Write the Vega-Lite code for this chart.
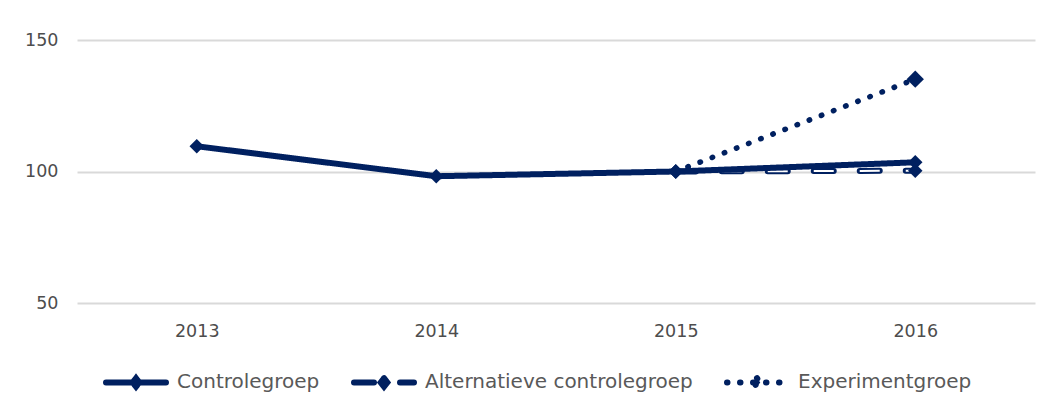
{
  "$schema": "https://vega.github.io/schema/vega-lite/v6.json",
  "width": 958,
  "height": 263,
  "autosize": {"type": "none"},
  "padding": {"left": 77, "top": 40, "right": 16, "bottom": 104},
  "background": "white",
  "config": {
    "view": {"stroke": null},
    "font": "DejaVu Sans",
    "axis": {"labelFont": "DejaVu Sans", "labelFontSize": 17, "labelColor": "#595959"}
  },
  "data": {
    "values": [
      {"year": "2013", "series": "Controlegroep", "value": 109.6},
      {"year": "2014", "series": "Controlegroep", "value": 98.2},
      {"year": "2015", "series": "Controlegroep", "value": 100.0},
      {"year": "2016", "series": "Controlegroep", "value": 103.5},
      {"year": "2015", "series": "Alternatieve controlegroep", "value": 100.0},
      {"year": "2016", "series": "Alternatieve controlegroep", "value": 100.3},
      {"year": "2015", "series": "Experimentgroep", "value": 100.0},
      {"year": "2016", "series": "Experimentgroep", "value": 135.1}
    ]
  },
  "encoding": {
    "x": {
      "field": "year", "type": "ordinal",
      "scale": {"type": "point", "padding": 0.5, "domain": ["2013", "2014", "2015", "2016"]},
      "axis": {"title": null, "domain": false, "ticks": false, "grid": false, "labelAngle": 0, "labelPadding": 19, "labelFontSize": 17.5, "labelColor": "#4d4d4d"}
    },
    "y": {
      "field": "value", "type": "quantitative",
      "scale": {"domain": [50, 150], "nice": false, "zero": false},
      "axis": {"title": null, "values": [50, 100, 150], "domain": false, "ticks": false, "grid": true, "gridColor": "#d9d9d9", "gridWidth": 2, "labelPadding": 19, "labelFontSize": 17.5, "labelColor": "#4d4d4d"}
    }
  },
  "layer": [
    {
      "transform": [{"filter": "datum.series === 'Alternatieve controlegroep'"}],
      "mark": {"type": "line", "strokeWidth": 6, "strokeCap": "round"},
      "encoding": {
        "color": {"field": "series", "type": "nominal"},
        "strokeDash": {"field": "series", "type": "nominal"}
      }
    },
    {
      "transform": [{"filter": "datum.series === 'Alternatieve controlegroep'"}],
      "mark": {"type": "line", "strokeWidth": 2, "color": "white", "strokeDash": [20, 26]},
      "encoding": {}
    },
    {
      "transform": [{"filter": "datum.series === 'Experimentgroep'"}],
      "mark": {"type": "line", "strokeWidth": 5.5, "strokeCap": "round"},
      "encoding": {
        "color": {"field": "series", "type": "nominal"},
        "strokeDash": {"field": "series", "type": "nominal"}
      }
    },
    {
      "transform": [{"filter": "datum.series === 'Controlegroep'"}],
      "mark": {"type": "line", "strokeWidth": 6},
      "encoding": {
        "color": {
          "field": "series", "type": "nominal",
          "scale": {"domain": ["Controlegroep", "Alternatieve controlegroep", "Experimentgroep"], "range": ["#002060", "#002060", "#002060"]},
          "legend": {
            "title": null,
            "orient": "none",
            "legendX": 26,
            "legendY": 309,
            "direction": "horizontal",
            "symbolType": "M-1,0H1M0,-0.14L0.11,0L0,0.14L-0.11,0Z",
            "symbolSize": 3600,
            "symbolStrokeColor": "#002060",
            "symbolStrokeWidth": 6,
            "symbolFillColor": "#002060",
            "labelFont": "DejaVu Sans",
            "labelFontSize": 20,
            "labelColor": "#595959",
            "labelOffset": 8,
            "columnPadding": 22,
            "labelLimit": 400,
            "encode": {
              "symbols": {
                "update": {
                  "fill": {"value": "#002060"},
                  "fillOpacity": {"value": 1},
                  "strokeCap": {"value": "round"}
                }
              }
            }
          }
        },
        "strokeDash": {
          "field": "series", "type": "nominal",
          "scale": {"domain": ["Controlegroep", "Alternatieve controlegroep", "Experimentgroep"], "range": [[1, 0], [20, 26], [0.5, 12.5]]}
        }
      }
    },
    {
      "mark": {"type": "point", "shape": "diamond", "filled": true, "color": "#002060", "opacity": 1},
      "encoding": {
        "size": {"condition": {"test": "datum.series === 'Experimentgroep' && datum.year === '2016'", "value": 300}, "value": 210}
      }
    }
  ]
}
